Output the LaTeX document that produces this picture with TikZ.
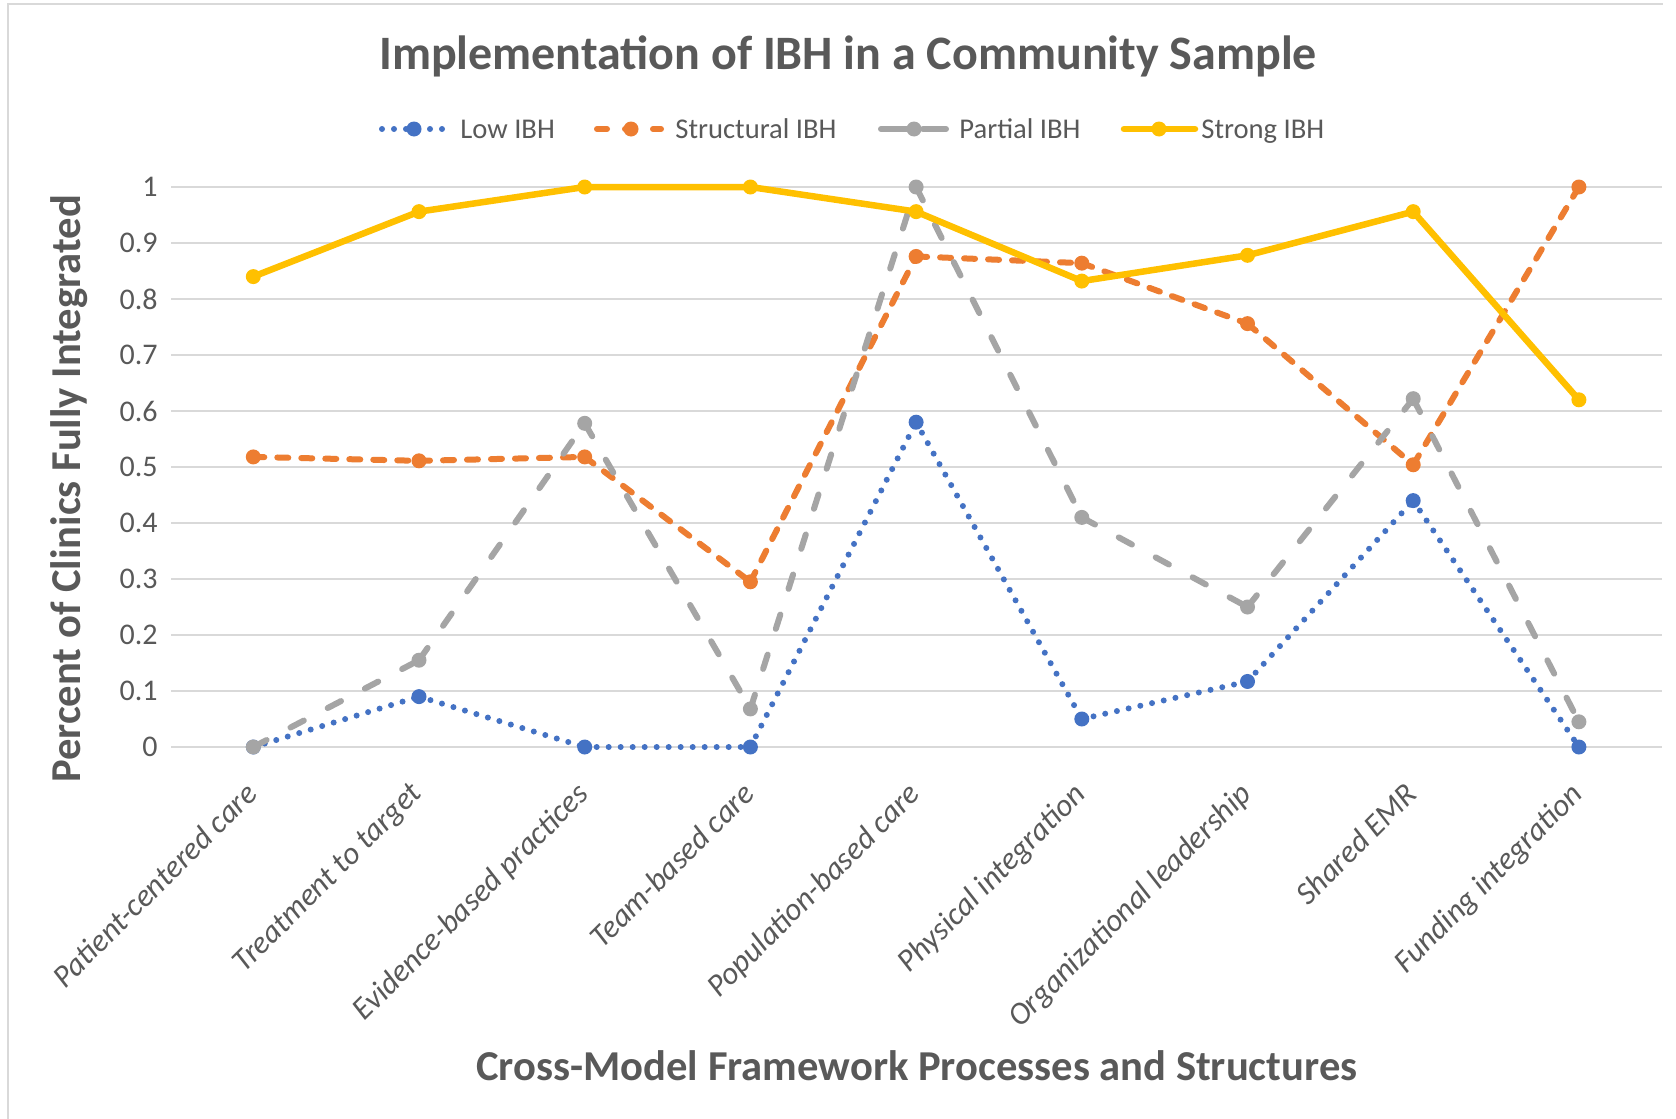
\documentclass[tikz,border=0pt]{standalone}
\usepackage{fontspec}
\setmainfont{Carlito}
\definecolor{gridc}{HTML}{D9D9D9}
\definecolor{txt}{HTML}{595959}
\definecolor{lowc}{HTML}{4472C4}
\definecolor{strc}{HTML}{ED7D31}
\definecolor{parc}{HTML}{A5A5A5}
\definecolor{strongc}{HTML}{FFC000}
\tikzset{
  gridln/.style={draw=gridc, line width=1pt},
  framel/.style={draw=gridc, line width=1pt},
  lowl/.style={draw=lowc, line width=3pt, line cap=round, dash pattern=on 0pt off 6pt},
  strl/.style={draw=strc, line width=3pt, line cap=round, dash pattern=on 5.5pt off 6.5pt},
  parl/.style={draw=parc, line width=3pt, line cap=round, dash pattern=on 7.5pt off 13.5pt},
  strongl/.style={draw=strongc, line width=3.25pt, line cap=round},
  mk/.style={circle, inner sep=0pt, minimum size=7.5pt},
  ticklab/.style={font=\fontsize{15}{18}\selectfont, text=txt, anchor=east, inner sep=0pt},
  catlab/.style={font=\itshape\fontsize{15.8}{18}\selectfont, text=txt, rotate=45, anchor=north east, inner sep=0pt},
  legtxt/.style={font=\fontsize{14.3}{17}\selectfont, text=txt, anchor=base west, inner sep=0pt},
  ttl/.style={font=\bfseries\fontsize{24}{28}\selectfont, text=txt, inner sep=0pt},
  axttl/.style={font=\bfseries\fontsize{21.3}{25}\selectfont, text=txt, inner sep=0pt},
}
\begin{document}
\begin{tikzpicture}[x=0.5pt,y=-0.5pt]
\fill[white] (0,0) rectangle (1676,1119);
\path[use as bounding box] (0,0) rectangle (1676,1119);
% frame
\draw[framel] (7.5,1119) -- (7.5,4) -- (1663,4);
% gridlines and tick labels
\foreach \k/\lab in {0/0,1/0.1,2/0.2,3/0.3,4/0.4,5/0.5,6/0.6,7/0.7,8/0.8,9/0.9,10/1} {
  \coordinate (gA\k) at (171,{747-56*\k});
  \coordinate (gB\k) at (1662,{747-56*\k});
  \draw[gridln] (gA\k) -- (gB\k);
  \node[ticklab] (tick\k) at (158,{747-56*\k}) {\lab};
}
% titles
\node[ttl] (title) at (848,56) {Implementation of IBH in a Community Sample};
\node[axttl, rotate=90] (ytitle) at (69,489) {Percent of Clinics Fully Integrated};
\node[axttl] (xtitle) at (917,1066) {Cross-Model Framework Processes and Structures};
% category labels
\foreach \lab [count=\i from 0] in {Patient-centered care,Treatment to target,Evidence-based practices,Team-based care,Population-based care,Physical integration,Organizational leadership,Shared EMR,Funding integration} {
  \node[catlab] (cat\i) at ({253.3+165.7*\i-10},780) {\lab};
}
% data coordinates
\foreach \v [count=\i from 0] in {0,0.09,0,0,0.58,0.05,0.117,0.44,0}
  \coordinate (L\i) at ({253.3+165.7*\i},{747-560*\v});
\foreach \v [count=\i from 0] in {0.518,0.511,0.518,0.295,0.876,0.864,0.756,0.504,1}
  \coordinate (S\i) at ({253.3+165.7*\i},{747-560*\v});
\foreach \v [count=\i from 0] in {0,0.155,0.578,0.068,1,0.41,0.25,0.622,0.045}
  \coordinate (P\i) at ({253.3+165.7*\i},{747-560*\v});
\foreach \v [count=\i from 0] in {0.84,0.956,1,1,0.956,0.832,0.878,0.956,0.62}
  \coordinate (G\i) at ({253.3+165.7*\i},{747-560*\v});
% series
\foreach \i/\j in {0/1,1/2,2/3,3/4,4/5,5/6,6/7,7/8} \draw[lowl] (L\i) -- (L\j);
\foreach \i in {0,...,8} \node[mk, fill=lowc] (mL\i) at (L\i) {};
\foreach \i/\j in {0/1,1/2,2/3,3/4,4/5,5/6,6/7,7/8} \draw[strl] (S\i) -- (S\j);
\foreach \i in {0,...,8} \node[mk, fill=strc] (mS\i) at (S\i) {};
\foreach \i/\j in {0/1,1/2,2/3,3/4,4/5,5/6,6/7,7/8} \draw[parl] (P\i) -- (P\j);
\foreach \i in {0,...,8} \node[mk, fill=parc] (mP\i) at (P\i) {};
\draw[strongl, line join=round] (G0) -- (G1) -- (G2) -- (G3) -- (G4) -- (G5) -- (G6) -- (G7) -- (G8);
\foreach \i in {0,...,8} \node[mk, fill=strongc] (mG\i) at (G\i) {};
% legend
\coordinate (lgL1) at (382,129); \coordinate (lgL2) at (447,129);
\draw[lowl] (lgL1) -- (lgL2);
\node[mk, fill=lowc] (lgLm) at (414,129) {};
\node[legtxt] (lgLt) at (460,138.5) {Low IBH};
\coordinate (lgS1) at (597,129); \coordinate (lgS2) at (661,129);
\draw[strl, dash pattern=on 5pt off 9pt] (lgS1) -- (lgS2);
\node[mk, fill=strc] (lgSm) at (631,129) {};
\node[legtxt] (lgSt) at (675,138.5) {Structural IBH};
\coordinate (lgP1) at (881,129); \coordinate (lgP2) at (946,129);
\draw[parl, dash pattern=on 17pt off 4pt] (lgP1) -- (lgP2);
\node[mk, fill=parc] (lgPm) at (914,129) {};
\node[legtxt] (lgPt) at (959,138.5) {Partial IBH};
\coordinate (lgG1) at (1124,129); \coordinate (lgG2) at (1195,129);
\draw[strongl] (lgG1) -- (lgG2);
\node[mk, fill=strongc] (lgGm) at (1159,129) {};
\node[legtxt] (lgGt) at (1201,138.5) {Strong IBH};
\end{tikzpicture}
\end{document}
